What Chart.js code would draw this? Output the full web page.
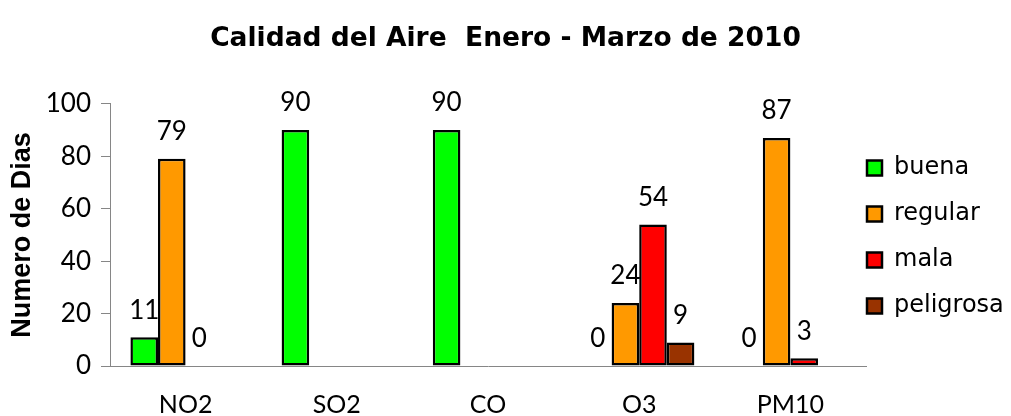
<!DOCTYPE html>
<html>
<head>
<meta charset="utf-8">
<script src="https://cdn.jsdelivr.net/npm/chart.js"></script>
<style>
  body { margin: 0; background: #fff; }
  #wrap { width: 1011px; height: 416px; position: relative; }
</style>
</head>
<body>
<div id="wrap"><canvas id="chart"></canvas></div>
<script>
// datos
const categorias = ['NO2', 'SO2', 'CO', 'O3', 'PM10'];
const buena = [11, 90, 90, 0, 0];
const regular = [79, null, null, 24, 87];
const mala = [0, null, null, 54, 3];
const peligrosa = [null, null, null, 9, null];
const yTicks = [0, 20, 40, 60, 80, 100];

const ejeGris = '#868686';

// etiquetas de valor encima de cada barra
const etiquetasValor = {
  id: 'etiquetasValor',
  afterDatasetsDraw(chart) {
    const ctx = chart.ctx;
    ctx.save();
    ctx.font = '26px Lato';
    ctx.fillStyle = '#000';
    ctx.textAlign = 'center';
    ctx.textBaseline = 'middle';
    chart.data.datasets.forEach((ds, i) => {
      chart.getDatasetMeta(i).data.forEach((bar, j) => {
        const v = ds.data[j];
        if (v === null || v === undefined) return;
        ctx.fillText(String(v), bar.x, bar.y - 27);
      });
    });
    ctx.restore();
  }
};

// la leyenda queda pegada al area del grafico y centrada en ella
const moverLeyenda = {
  id: 'moverLeyenda',
  afterLayout(chart) {
    const l = chart.legend;
    if (!l) return;
    l.left = chart.chartArea.right + 1 - l.options.labels.padding;
    l.right = chart.width;
    l.top = chart.chartArea.top;
    l.bottom = chart.chartArea.bottom + 4;
  }
};

new Chart(document.getElementById('chart'), {
  type: 'bar',
  data: {
    labels: categorias,
    datasets: [
      { label: 'buena', data: buena, backgroundColor: '#00FF00' },
      { label: 'regular', data: regular, backgroundColor: '#FF9900' },
      { label: 'mala', data: mala, backgroundColor: '#FF0000' },
      { label: 'peligrosa', data: peligrosa, backgroundColor: '#993300' }
    ]
  },
  options: {
    responsive: true,
    maintainAspectRatio: false,
    animation: false,
    datasets: {
      bar: {
        borderColor: '#000',
        borderWidth: 2.5,
        borderSkipped: false,
        categoryPercentage: 0.73,
        barPercentage: 1
      }
    },
    layout: { padding: { left: 0, right: 0, top: 0, bottom: 0 } },
    plugins: {
      title: {
        display: true,
        text: 'Calidad del Aire  Enero - Marzo de 2010',
        color: '#000',
        font: { family: 'DejaVu Sans', size: 26.5, weight: 'bold' },
        padding: { top: 23, bottom: 49 }
      },
      legend: {
        position: 'right',
        maxWidth: 145,
        labels: {
          color: '#000',
          font: { family: 'DejaVu Sans', size: 24 },
          boxWidth: 15,
          boxHeight: 15,
          padding: 22
        }
      },
      tooltip: { enabled: false }
    },
    scales: {
      x: {
        grid: { display: false, drawTicks: false },
        border: { display: true, color: ejeGris, width: 1 },
        ticks: { color: '#000', font: { family: 'Lato', size: 25 }, padding: 24, maxRotation: 0 },
        afterFit(scale) { scale.height = 50; }
      },
      y: {
        min: 0,
        max: 100,
        afterBuildTicks(scale) { scale.ticks = yTicks.map(v => ({ value: v })); },
        grid: { drawOnChartArea: false, drawTicks: true, tickLength: 9, color: ejeGris },
        border: { display: true, color: ejeGris, width: 1 },
        ticks: { color: '#000', font: { family: 'Lato', size: 26 }, padding: 10 },
        title: {
          display: true,
          text: 'Numero de Dias',
          color: '#000',
          font: { family: 'Liberation Sans', size: 27, weight: 'bold' },
          padding: { top: 6, bottom: 0 }
        },
        afterFit(scale) { scale.width = 110; }
      }
    }
  },
  plugins: [etiquetasValor, moverLeyenda]
});
</script>
</body>
</html>
